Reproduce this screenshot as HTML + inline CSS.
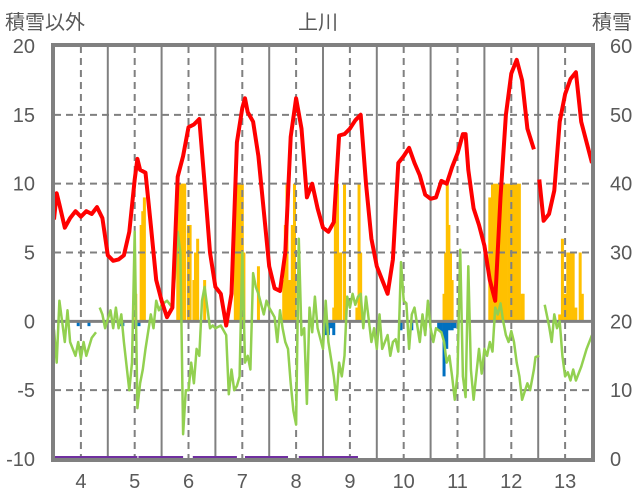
<!DOCTYPE html>
<html><head><meta charset="utf-8"><style>
html,body{margin:0;padding:0;background:#fff;}
svg{display:block;font-family:"Liberation Sans","Noto Sans CJK JP",sans-serif;}
</style></head><body>
<svg id="chart" width="636" height="501" viewBox="0 0 636 501">
<text x="5" y="29" font-size="20" fill="#595959">積雪以外</text>
<text x="318" y="29" font-size="20" fill="#595959" text-anchor="middle">上川</text>
<text x="632" y="29" font-size="20" fill="#595959" text-anchor="end">積雪</text>
<g id="bars"></g><g id="grid"></g><g id="lines"></g><g id="axes"></g>
</svg>
<script>
const leftTicks=[20,15,10,5,0,-5,-10];
const rightTicks=[60,50,40,30,20,10,0];
const monthTicks=[4,5,6,7,8,9,10,11,12,13];
const redX=[3.5,3.55,3.6,3.7,3.8,3.9,4.0,4.1,4.2,4.3,4.4,4.5,4.6,4.7,4.8,4.9,5.0,5.05,5.1,5.2,5.3,5.4,5.5,5.6,5.7,5.8,5.9,6.0,6.1,6.2,6.3,6.4,6.5,6.6,6.7,6.8,6.9,7.0,7.05,7.1,7.2,7.3,7.4,7.5,7.6,7.7,7.8,7.9,8.0,8.1,8.2,8.3,8.4,8.5,8.6,8.7,8.8,8.9,9.0,9.1,9.2,9.3,9.4,9.5,9.6,9.7,9.8,9.9,10.0,10.1,10.2,10.3,10.4,10.5,10.6,10.7,10.8,10.9,11.0,11.1,11.15,11.2,11.3,11.4,11.5,11.6,11.7,11.8,11.9,12.0,12.1,12.2,12.3,12.42,12.45,12.52,12.6,12.7,12.8,12.9,13.0,13.1,13.2,13.3,13.4,13.5];
const redY=[7.4,9.3,8.5,6.8,7.5,8.0,7.6,8.0,7.8,8.3,7.5,4.8,4.4,4.5,4.8,6.5,10.3,11.8,11.0,10.8,7.0,3.0,1.5,0.3,1.0,10.5,12.0,14.1,14.3,14.7,10.0,5.0,2.5,2.0,-0.3,2.0,13.0,15.5,16.2,15.2,14.5,12.0,8.0,4.0,2.4,2.2,5.0,13.4,16.2,14.0,9.0,10.0,8.2,6.8,6.5,7.2,13.5,13.6,14.0,14.6,15.0,10.0,6.0,4.0,3.0,2.0,4.5,11.5,12.0,12.6,11.5,10.6,9.2,8.9,9.0,10.2,10.0,11.2,12.2,13.6,13.6,11.0,8.2,7.0,5.5,3.0,1.5,9.0,15.0,18.0,19.0,17.5,14.0,12.5,null,10.3,7.3,7.8,9.5,14.5,16.5,17.6,18.1,14.5,13.0,11.5];
const greenX=[3.5,3.55,3.6,3.7,3.75,3.8,3.9,3.95,4.0,4.05,4.1,4.2,4.28,4.3,4.35,4.4,4.45,4.55,4.6,4.65,4.7,4.75,4.8,4.9,4.95,5.0,5.05,5.1,5.15,5.2,5.3,5.35,5.4,5.45,5.5,5.6,5.7,5.75,5.8,5.85,5.9,5.95,6.0,6.05,6.1,6.15,6.2,6.25,6.3,6.4,6.45,6.5,6.6,6.7,6.75,6.8,6.85,6.9,6.95,7.0,7.05,7.1,7.15,7.2,7.25,7.3,7.4,7.45,7.5,7.6,7.65,7.7,7.75,7.8,7.85,7.9,7.95,8.0,8.05,8.1,8.15,8.2,8.25,8.3,8.35,8.4,8.5,8.55,8.6,8.7,8.75,8.8,8.85,8.9,8.95,9.0,9.05,9.1,9.15,9.2,9.25,9.3,9.4,9.45,9.5,9.55,9.6,9.7,9.75,9.8,9.85,9.9,9.95,10.0,10.05,10.1,10.15,10.2,10.3,10.35,10.4,10.45,10.5,10.55,10.6,10.7,10.75,10.8,10.85,10.9,10.95,11.0,11.05,11.1,11.15,11.2,11.25,11.3,11.4,11.45,11.5,11.55,11.6,11.65,11.7,11.75,11.8,11.85,11.9,11.95,12.0,12.05,12.1,12.15,12.2,12.3,12.35,12.42,12.45,12.52,12.6,12.62,12.7,12.75,12.8,12.85,12.9,12.95,13.0,13.05,13.1,13.15,13.2,13.3,13.4,13.5];
const greenY=[-0.6,-3.0,1.5,-1.5,0.8,-1.5,-2.5,-1.5,-2.7,-1.5,-2.5,-1.2,-0.8,null,1.0,0.5,-0.5,0.8,-0.5,1.0,-0.5,0.5,-1.5,-5.0,-3.0,6.5,-6.3,-4.5,-3.5,-2.0,0.5,-0.5,1.5,0.8,1.2,1.5,1.0,3.5,6.5,5.0,-8.2,-5.0,-5.0,-3.0,-4.5,-2.0,-2.5,1.5,2.5,-0.5,-0.3,-0.5,-0.3,-1.0,-5.3,-3.5,-5.0,-4.7,-4.0,5.0,-3.0,-2.5,-3.5,3.5,2.5,2.0,0.5,1.5,1.0,0.3,-1.5,0.8,-0.5,-1.5,-2.0,-4.5,-6.5,-7.5,6.0,-1.0,-0.5,-6.0,1.0,-0.8,1.8,-0.5,-2.0,1.5,-1.5,-4.0,-5.7,-3.0,-4.0,-2.5,1.8,1.0,2.0,1.2,1.8,2.0,-0.5,1.8,-1.5,-0.5,-2.0,0.5,-2.0,-1.0,-2.5,-1.5,-1.3,-2.2,4.3,1.5,1.3,-2.0,0.5,1.0,-1.5,0.5,-1.0,1.5,-0.5,-1.5,-0.5,-0.8,-1.5,-3.0,-2.5,-4.0,-5.7,-3.8,5.2,-4.0,-5.5,4.0,-3.5,-5.7,-2.0,-3.8,-2.0,-2.5,-1.5,-2.2,1.0,0.5,1.3,0.0,-1.0,-1.5,-0.7,-1.5,-3.0,-4.0,-5.7,-4.5,-5.0,-3.5,-2.6,-2.5,null,1.2,-0.3,-1.5,0.5,-0.5,0.0,-2.5,-4.0,-3.7,-4.3,-3.5,-4.3,-3.3,-2.0,-1.0,1.5,-0.3];
const barX=[5.02,5.12,5.15,5.18,5.8,5.83,5.87,5.9,5.93,6.0,6.03,6.1,6.13,6.17,6.3,6.87,6.9,6.93,6.97,7.0,7.03,7.3,7.77,7.8,7.83,7.87,7.9,7.93,7.97,8.03,8.7,8.73,8.77,8.8,8.83,8.9,9.13,9.17,9.2,10.75,10.78,10.81,10.84,10.87,10.9,11.6,11.65,11.7,11.75,11.8,11.85,11.9,11.95,12.0,12.05,12.1,12.15,12.2,12.22,12.9,12.95,13.0,13.05,13.1,13.15,13.2,13.28,13.32];
const barVal=[24,34,36,38,38,40,40,40,40,34,34,26,30,32,26,34,40,40,40,40,30,28,26,34,40,26,26,34,40,26,22,38,40,30,30,40,22,40,30,24,30,40,34,30,26,38,40,40,40,40,40,40,40,40,40,40,40,24,24,21,32,24,30,30,30,22,30,24];
const negX=[3.95,4.15,4.72,4.78,5.08,8.55,8.6,8.65,8.7,9.95,10.15,10.4,10.65,10.7,10.75,10.8,10.85,10.9,10.95];
const negVal=[19.3,19.3,19.3,19.3,19.3,18.0,18.0,19.0,18.0,18.7,18.7,18.7,18.7,18.3,12.0,16.0,18.7,18.7,19.0];
const purpleSeg=[[3.5,5.05],[5.07,5.9],[6.08,6.9],[7.05,7.85],[8.05,9.15]];

const L=54,R=592,T=46,B=459;
const X=m=>L+(m-3.5)/10*(R-L);
const YL=v=>T+(20-v)/30*(B-T);
const YR=v=>T+(60-v)/60*(B-T);
const NS="http://www.w3.org/2000/svg";
function mk(tag,attrs,parent){const e=document.createElementNS(NS,tag);for(const k in attrs)e.setAttribute(k,attrs[k]);parent.appendChild(e);return e;}
const gb=document.getElementById('bars'),gg=document.getElementById('grid'),gl=document.getElementById('lines'),ga=document.getElementById('axes');
const bw=3.0;
barX.forEach((m,i)=>{const v=barVal[i];const e=mk('rect',{x:X(m)-bw/2,y:YR(v),width:bw,height:YR(20)-YR(v),fill:'#FFC000'},gb);

});
negX.forEach((m,i)=>{const v=negVal[i];const e=mk('rect',{x:X(m)-bw/2,y:YR(20),width:bw,height:YR(v)-YR(20),fill:'#0070C0'},gb);

});
[15,10,5,-5].forEach(v=>{const e=mk('line',{x1:L,x2:R,y1:YL(v),y2:YL(v),stroke:'#808080','stroke-width':2,'stroke-dasharray':'7,5'},gg);

});
for(let m=4.5;m<13.5;m+=1){const e=mk('line',{x1:X(m),x2:X(m),y1:T,y2:B,stroke:'#808080','stroke-width':2},gg);

}
monthTicks.forEach(m=>{const e=mk('line',{x1:X(m),x2:X(m),y1:T,y2:B,stroke:'#808080','stroke-width':2,'stroke-dasharray':'7,5'},gg);

});
const zl=mk('line',{x1:L,x2:R,y1:YL(0),y2:YL(0),stroke:'#808080','stroke-width':3},gg);


function pathFrom(xs,ys,yf){let d='',pen=false;xs.forEach((m,i)=>{const v=ys[i];if(v===null){pen=false;return;}d+=(pen?'L':'M')+X(m).toFixed(1)+','+yf(v).toFixed(1);pen=true;});return d;}
const gp=mk('path',{d:pathFrom(greenX,greenY,YL),fill:'none',stroke:'#92D050','stroke-width':2.5,'stroke-linejoin':'round'},gl);


const rp=mk('path',{d:pathFrom(redX,redY,YL),fill:'none',stroke:'#FF0000','stroke-width':4,'stroke-linejoin':'round'},gl);


purpleSeg.forEach(s=>{const e=mk('line',{x1:X(s[0]),x2:X(s[1]),y1:B-1,y2:B-1,stroke:'#7030A0','stroke-width':4},gl);

});
const fr=mk('rect',{x:L-1,y:T-1,width:R-L+2,height:B-T+2,fill:'none',stroke:'#808080','stroke-width':4},ga);


leftTicks.forEach(v=>{const e=mk('text',{x:35,y:YL(v)+7,'font-size':20,fill:'#595959','text-anchor':'end'},ga);e.textContent=v;

});
rightTicks.forEach(v=>{const e=mk('text',{x:610,y:YR(v)+7,'font-size':20,fill:'#595959','text-anchor':'start'},ga);e.textContent=v;

});
monthTicks.forEach(m=>{const e=mk('text',{x:X(m),y:488,'font-size':20,fill:'#595959','text-anchor':'middle'},ga);e.textContent=m;

});
</script>
</body></html>
